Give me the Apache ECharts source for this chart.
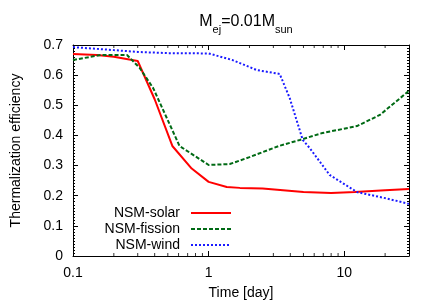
<!DOCTYPE html>
<html>
<head>
<meta charset="utf-8">
<script src="https://cdn.jsdelivr.net/npm/echarts@6/dist/echarts.min.js"></script>
<style>html,body{margin:0;padding:0;background:#fff;}#c{width:436px;height:305px;}</style>
</head>
<body>
<div id="c"></div>
<script>
const tSolar = [0.1, 0.15, 0.2, 0.3, 0.4, 0.54, 0.75, 1.0, 1.36, 1.7, 2.5, 5, 8, 12, 20, 30];
const vSolar = [0.670, 0.667, 0.661, 0.647, 0.52, 0.365, 0.29, 0.246, 0.229, 0.226, 0.224, 0.212, 0.209, 0.212, 0.218, 0.222];
const tFission = [0.1, 0.16, 0.25, 0.31, 0.39, 0.61, 1.0, 1.43, 2.0, 3.3, 4.7, 6.9, 12.4, 18.3, 30];
const vFission = [0.650, 0.667, 0.667, 0.624, 0.557, 0.365, 0.302, 0.305, 0.328, 0.365, 0.385, 0.408, 0.431, 0.468, 0.548];
const tWind = [0.1, 0.2, 0.3, 0.5, 1.0, 1.5, 2.26, 3.34, 3.96, 4.94, 5.56, 7.8, 12.4, 20, 30];
const vWind = [0.693, 0.683, 0.677, 0.673, 0.672, 0.650, 0.617, 0.604, 0.524, 0.385, 0.358, 0.269, 0.212, 0.192, 0.173];
const xMinorTicks = [0.2, 0.3, 0.4, 0.5, 0.6, 0.7, 0.8, 0.9, 2, 3, 4, 5, 6, 7, 8, 9, 20];
const seriesNames = ['NSM-solar', 'NSM-fission', 'NSM-wind'];
const yTickMax = 0.7;

const FONT = 'Liberation Sans';
const zip = (a, b) => a.map((x, i) => [x, b[i]]);

const chart = echarts.init(document.getElementById('c'), null, {renderer: 'canvas'});

const axisCommon = {
  min: 0.1, max: 30, logBase: 10,
  axisLine: {show: true, onZero: false, lineStyle: {color: '#000', width: 1}},
  axisTick: {show: true, inside: true, length: 5, lineStyle: {color: '#000'}},
  splitLine: {show: false}
};

const legendCommon = {
  orient: 'vertical', right: 204, itemWidth: 40, itemHeight: 10, align: 'right', padding: 0,
  itemGap: 0,
  itemStyle: {opacity: 0},
  textStyle: {fontFamily: FONT, fontSize: 14, color: '#000', padding: [0, 6, 0, 0]}
};

const option = {
  animation: false,
  backgroundColor: '#fff',
  title: {
    text: '{n|M}{s|ej}{n|=0.01M}{s|sun}',
    left: 241, top: 9, textAlign: 'center',
    textStyle: {
      fontWeight: 'normal',
      rich: {
        n: {fontFamily: FONT, fontSize: 16, color: '#000', fontWeight: 'normal'},
        s: {fontFamily: FONT, fontSize: 11, color: '#000', fontWeight: 'normal', verticalAlign: 'bottom', padding: [0,0,-5,0]}
      }
    }
  },
  grid: {left: 73, right: 27, top: 45, bottom: 49, show: false},
  legend: [
    Object.assign({}, legendCommon, {top: 206, data: [seriesNames[0]]}),
    Object.assign({}, legendCommon, {top: 222, data: [seriesNames[1]]}),
    Object.assign({}, legendCommon, {top: 238, data: [seriesNames[2]]})
  ],
  xAxis: [
    Object.assign({}, axisCommon, {
      type: 'log', position: 'bottom',
      name: 'Time [day]', nameLocation: 'middle', nameGap: 30,
      nameTextStyle: {fontFamily: FONT, fontSize: 14, color: '#000'},
      axisLabel: {fontFamily: FONT, fontSize: 14, color: '#000', margin: 10, showMaxLabel: false,
        formatter: v => String(+v.toPrecision(3))}
    }),
    Object.assign({}, axisCommon, {
      type: 'log', position: 'top', axisLabel: {show: false}
    })
  ],
  yAxis: [
    {
      type: 'value', min: 0, max: yTickMax, interval: 0.1, position: 'left',
      name: 'Thermalization efficiency', nameLocation: 'middle', nameGap: 50, nameRotate: 90,
      nameTextStyle: {fontFamily: FONT, fontSize: 14, color: '#000'},
      axisLine: {show: true, lineStyle: {color: '#000'}},
      axisTick: {show: true, inside: true, length: 5, lineStyle: {color: '#000'}},
      minorTick: {show: true, splitNumber: 10, length: 2, lineStyle: {color: '#000'}},
      axisLabel: {fontFamily: FONT, fontSize: 14, color: '#000', margin: 10,
        formatter: v => String(+v.toFixed(2))},
      splitLine: {show: false}
    },
    {
      type: 'value', min: 0, max: yTickMax, interval: 0.1, position: 'right',
      axisLine: {show: true, lineStyle: {color: '#000'}},
      axisTick: {show: true, inside: true, length: 5, lineStyle: {color: '#000'}},
      minorTick: {show: true, splitNumber: 10, length: 2, lineStyle: {color: '#000'}},
      axisLabel: {show: false},
      splitLine: {show: false}
    }
  ],
  series: [
    {
      name: seriesNames[0], type: 'line', data: zip(tSolar, vSolar), symbol: 'none',
      lineStyle: {color: '#ff0000', width: 2, type: 'solid'}, itemStyle: {color: '#ff0000'}
    },
    {
      name: seriesNames[1], type: 'line', data: zip(tFission, vFission), symbol: 'none',
      lineStyle: {color: '#006a14', width: 2, type: [4, 2]}, itemStyle: {color: '#006a14'}
    },
    {
      name: seriesNames[2], type: 'line', data: zip(tWind, vWind), symbol: 'none',
      lineStyle: {color: '#1a1aff', width: 2, type: [2, 2]}, itemStyle: {color: '#1a1aff'}
    },
    {
      type: 'scatter', silent: true, data: xMinorTicks.map(x => [x, 0]),
      symbol: 'rect', symbolSize: [1, 3], symbolOffset: [0, -1.5],
      itemStyle: {color: '#000'}, clip: false
    },
    {
      type: 'scatter', silent: true, data: xMinorTicks.map(x => [x, yTickMax]),
      symbol: 'rect', symbolSize: [1, 3], symbolOffset: [0, 1.5],
      itemStyle: {color: '#000'}, clip: false
    }
  ]
};
chart.setOption(option);
</script>
</body>
</html>
